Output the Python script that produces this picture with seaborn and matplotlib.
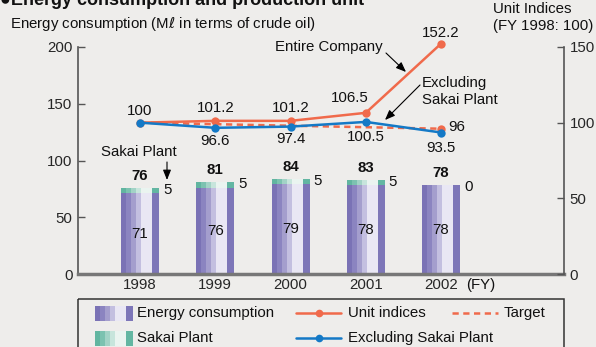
import numpy as np
import pandas as pd
import matplotlib
matplotlib.use("Agg")
import matplotlib.pyplot as plt
from matplotlib.patches import Rectangle
from matplotlib.lines import Line2D
import seaborn as sns

# ---- data -------------------------------------------------------------
years = ["1998", "1999", "2000", "2001", "2002"]
energy_ex_sakai = [71, 76, 79, 78, 78]      # purple part of each bar
sakai_plant = [5, 5, 5, 5, 0]               # teal part stacked on top
energy_total = [76, 81, 84, 83, 78]         # bold totals above bars
unit_indices = [100, 101.2, 101.2, 106.5, 152.2]
excl_sakai_indices = [100, 96.6, 97.4, 100.5, 93.5]
target_years = ["1998", "2002"]
target_indices = [100, 96]

# ---- style ------------------------------------------------------------
BG = "#eeedeb"
PURPLE = ["#7a72b5", "#8b84c0", "#a49ecd", "#c3bfe0", "#e9e7f4", "#7d76b8"]
TEAL = ["#61b5a0", "#7cc2b0", "#a2d3c6", "#c7e5dc", "#eaf4f0", "#63b6a2"]
STRIPE_W = np.array([5, 5, 5, 5, 11, 7], dtype=float)
ORANGE = "#f06a4b"
BLUE = "#1479c6"
TXT = "#111111"
FS = 10.8
LW = 1.8
MS = 6

sns.set_theme(style="white")
plt.rcParams["font.family"] = ["Liberation Sans", "DejaVu Sans"]
plt.rcParams["text.color"] = TXT

W, H = 596, 347
fig = plt.figure(figsize=(W / 100, H / 100), dpi=100, facecolor=BG)

x0, x1, y0, y1 = 78, 564, 274, 47
ax = fig.add_axes([x0 / W, 1 - y0 / H, (x1 - x0) / W, (y0 - y1) / H])
ax.set_facecolor("none")
ax2 = ax.twinx()
ax2.set_facecolor("none")


def stripes(target, x, y, w, h, colors, z, **kw):
    """Fill a rectangle with vertical graded stripes."""
    fr = STRIPE_W / STRIPE_W.sum()
    starts = np.concatenate([[0], np.cumsum(fr)[:-1]])
    for i, (s, f, c) in enumerate(zip(starts, fr, colors)):
        extra = 0.02 * f if i < len(fr) - 1 else 0
        target.add_patch(Rectangle((x + s * w, y), (f + extra) * w, h,
                                   facecolor=c, edgecolor="none", zorder=z,
                                   linewidth=0, **kw))


# ---- stacked bars -----------------------------------------------------
df = pd.DataFrame({"year": years, "total": energy_total,
                   "base": energy_ex_sakai, "sakai": sakai_plant})
bw = 0.505
sns.barplot(data=df, x="year", y="total", color=TEAL[0], width=bw,
            saturation=1, ax=ax, zorder=2)
sns.barplot(data=df, x="year", y="base", color=PURPLE[0], width=bw,
            saturation=1, ax=ax, zorder=2)
n = len(years)
for k, p in enumerate(ax.patches[:2 * n]):
    cols = TEAL if k < n else PURPLE
    z = 3 if k < n else 4
    if p.get_height() > 0:
        stripes(ax, p.get_x(), p.get_y(), p.get_width(), p.get_height(), cols, z)
    p.set_visible(False)

for i in range(n):
    ax.annotate(str(energy_total[i]), (i, energy_total[i]), xytext=(0, 12),
                textcoords="offset pixels", ha="center", va="center",
                fontsize=FS, fontweight="bold", zorder=6)
    ax.annotate(str(sakai_plant[i]), (i + bw / 2, energy_total[i]), xytext=(4, -2),
                textcoords="offset pixels", ha="left", va="center",
                fontsize=FS, zorder=6)
    ax.annotate(str(energy_ex_sakai[i]), (i, energy_ex_sakai[i] / 2),
                ha="center", va="center", fontsize=FS, zorder=6)

# ---- index lines ------------------------------------------------------
pos = np.arange(n)
tpos = [years.index(y) for y in target_years]
ax2.plot(tpos, target_indices, color=ORANGE, lw=LW, ls=(0, (2.5, 1.8)),
         zorder=5, clip_on=False)
sns.lineplot(x=tpos[-1:], y=target_indices[-1:], color=ORANGE, marker="o",
             markersize=MS, markeredgewidth=0, ax=ax2, zorder=6, clip_on=False)
sns.lineplot(x=pos, y=unit_indices, color=ORANGE, lw=LW, marker="o",
             markersize=MS, markeredgewidth=0, ax=ax2, zorder=6, clip_on=False)
sns.lineplot(x=pos, y=excl_sakai_indices, color=BLUE, lw=LW, marker="o",
             markersize=MS, markeredgewidth=0, ax=ax2, zorder=7, clip_on=False)


def fmt(v):
    return f"{v:.1f}" if v != int(v) else f"{int(v)}"


up_off = [(0, 12), (0, 13), (0, 13), (-16, 15), (0, 11)]
for i, v in enumerate(unit_indices):
    ax2.annotate(fmt(v), (i, v), xytext=up_off[i], textcoords="offset pixels",
                 ha="center", va="center", fontsize=FS, zorder=8,
                 annotation_clip=False)
down_off = [None, (0, -13), (0, -12), (0, -15), (0, -15)]
for i, v in enumerate(excl_sakai_indices):
    if i == 0:
        continue
    ax2.annotate(fmt(v), (i, v), xytext=down_off[i], textcoords="offset pixels",
                 ha="center", va="center", fontsize=FS, zorder=8,
                 annotation_clip=False)
ax2.annotate(fmt(target_indices[-1]), (tpos[-1], target_indices[-1]),
             xytext=(7, 2), textcoords="offset pixels", ha="left", va="center",
             fontsize=FS, zorder=8, annotation_clip=False)

# ---- axes -------------------------------------------------------------
ax.set_xlim(-0.824, 5.634)
ax.set_ylim(0, 200)
ax2.set_ylim(0, 150)
ax.set_yticks([0, 50, 100, 150, 200])
ax2.set_yticks([0, 50, 100, 150])
ax.set_xlabel("")
ax.set_ylabel("")
ax2.set_ylabel("")
ax.tick_params(axis="y", direction="in", length=5, width=1, color="#555555",
               labelsize=FS, pad=4, left=True)
ax2.tick_params(axis="y", direction="in", length=5, width=1, color="#555555",
                labelsize=FS, pad=4, right=True)
ax.tick_params(axis="x", length=0, labelsize=FS, pad=3)
for a in (ax, ax2):
    a.spines["top"].set_visible(False)
ax.spines["right"].set_visible(False)
ax2.spines["left"].set_visible(False)
ax2.spines["bottom"].set_visible(False)
ax.spines["left"].set_color("#555555")
ax.spines["left"].set_linewidth(1.2)
ax2.spines["right"].set_color("#555555")
ax2.spines["right"].set_linewidth(1.2)
ax.spines["bottom"].set_color("#777777")
ax.spines["bottom"].set_linewidth(2.5)
ax.spines["bottom"].set_zorder(9)

# ---- overlay in pixel coordinates for texts, arrows and legend --------
ov = fig.add_axes([0, 0, 1, 1], zorder=10)
ov.set_xlim(0, W)
ov.set_ylim(H, 0)
ov.axis("off")
ov.patch.set_visible(False)

ov.text(0, 5, "●Energy consumption and production unit", fontsize=13,
        fontweight="bold", ha="left", va="baseline")
ov.text(10, 24, r"Energy consumption (M$\ell$ in terms of crude oil)", fontsize=FS,
        ha="left", va="center")
ov.text(493, 9, "Unit Indices", fontsize=FS, ha="left", va="center")
ov.text(493, 26, "(FY 1998: 100)", fontsize=FS, ha="left", va="center")
ov.text(466, 285, "(FY)", fontsize=FS, ha="left", va="center")

arrow = dict(arrowstyle="-|>,head_length=0.5,head_width=0.2", color="black",
             lw=0.8, shrinkA=0, shrinkB=0)
ov.text(383, 47, "Entire Company", fontsize=FS, ha="right", va="center")
ov.annotate("", xy=(406, 72), xytext=(386, 53), arrowprops=arrow)
ov.text(422, 83, "Excluding", fontsize=FS, ha="left", va="center")
ov.text(422, 100, "Sakai Plant", fontsize=FS, ha="left", va="center")
ov.annotate("", xy=(385, 120), xytext=(420, 85), arrowprops=arrow)
ov.text(177, 152, "Sakai Plant", fontsize=FS, ha="right", va="center")
ov.annotate("", xy=(167, 180), xytext=(167, 162), arrowprops=arrow)

# legend frame (bottom edge runs past the figure)
ov.add_patch(Rectangle((77.5, 298.5), 486, 60, fill=False, edgecolor="#333333",
                       lw=1.1, clip_on=False))
r1, r2 = 313, 338
stripes(ov, 95, r1 - 7.5, 38, 15, PURPLE, 11)
stripes(ov, 95, r2 - 7.5, 38, 15, TEAL, 11)
ov.text(137, r1, "Energy consumption", fontsize=FS, ha="left", va="center")
ov.text(137, r2, "Sakai Plant", fontsize=FS, ha="left", va="center")
ov.add_line(Line2D([296, 341], [r1, r1], color=ORANGE, lw=LW))
ov.plot([318.5], [r1], "o", color=ORANGE, ms=MS - 0.5, mew=0)
ov.text(348, r1, "Unit indices", fontsize=FS, ha="left", va="center")
ov.add_line(Line2D([296, 341], [r2, r2], color=BLUE, lw=LW))
ov.plot([318.5], [r2], "o", color=BLUE, ms=MS - 0.5, mew=0)
ov.text(348, r2, "Excluding Sakai Plant", fontsize=FS, ha="left", va="center")
ov.add_line(Line2D([452, 498], [r1, r1], color=ORANGE, lw=LW, ls=(0, (2.5, 1.8))))
ov.text(504, r1, "Target", fontsize=FS, ha="left", va="center")

fig.savefig("out.png", dpi=100, facecolor=BG)
